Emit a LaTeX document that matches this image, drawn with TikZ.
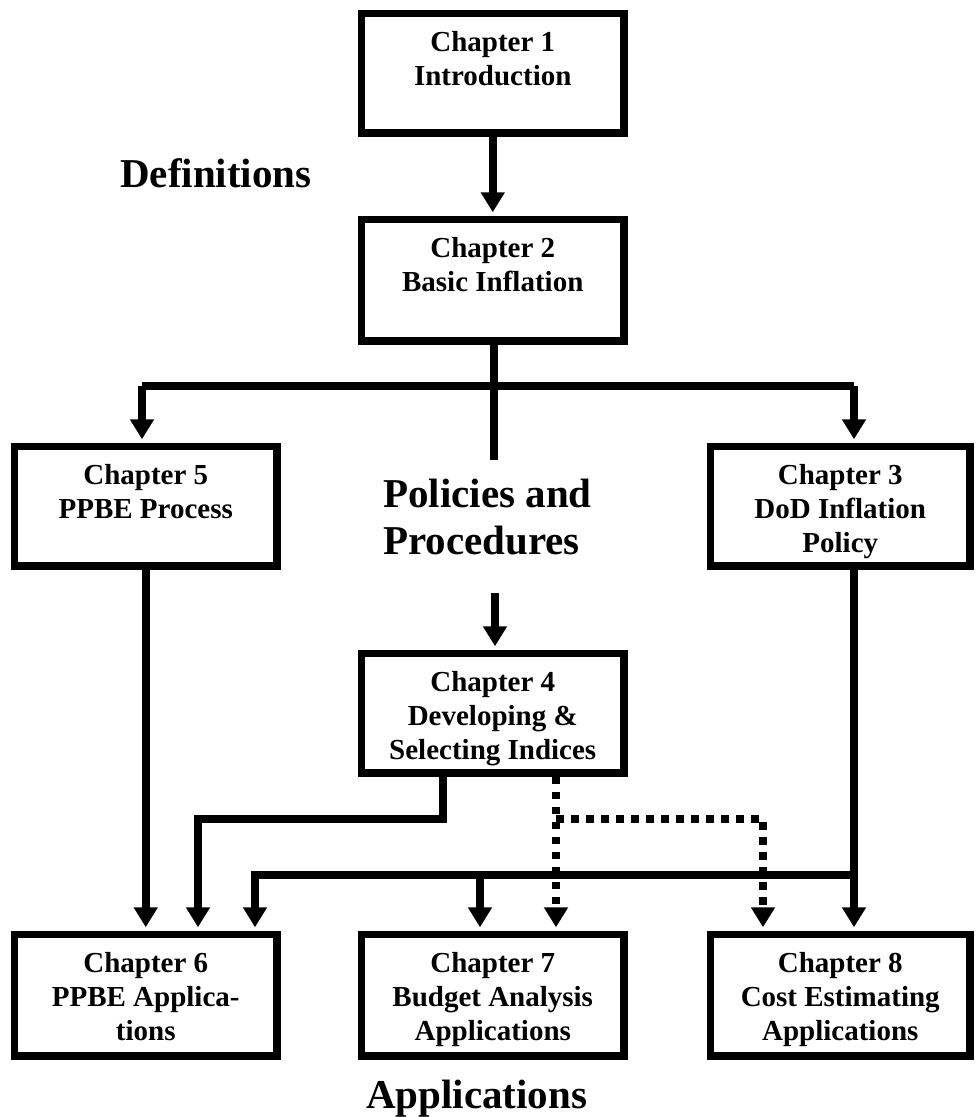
\documentclass[tikz,border=0pt]{standalone}
\usepackage{fontspec}
\setmainfont{Liberation Serif}
\usetikzlibrary{arrows.meta,calc}
\newcommand\chbox[6]{%
  \node[chapbox] (#1) at (#2+3.75,#3+3.75)
  {\parbox[c][\dimexpr#5pt-#3pt-7.5pt\relax][t]{\dimexpr#4pt-#2pt-7.5pt\relax}%
  {\centering\fontsize{29}{34}\selectfont\bfseries\rule{0pt}{37.75pt}#6\par}};}
\tikzset{
  chapbox/.style={draw,line width=7.5pt,inner sep=0pt,anchor=north west},
  conn/.style={line width=7.5pt,line join=miter},
  arr/.style={conn,-{Triangle[width=23pt,length=20pt]},shorten >=3.5pt},
  darr/.style={arr,dash pattern=on 7.5pt off 7.5pt},
  big/.style={inner sep=0pt,font=\fontsize{41}{47}\selectfont\bfseries}
}
\begin{document}
\begin{tikzpicture}[x=1pt,y=-1pt]
\useasboundingbox (0,0) rectangle (976,1117);
% boxes
\chbox{c1}{354}{6}{624}{133}{Chapter 1\\Introduction}
\chbox{c2}{354}{212}{624}{341}{Chapter 2\\Basic Inflation}
\chbox{c5}{7}{439}{277}{566}{Chapter 5\\PPBE Process}
\chbox{c3}{703}{439}{970}{566}{Chapter 3\\DoD Inflation\\Policy}
\chbox{c4}{354}{646}{624}{773}{Chapter 4\\Developing \&\\Selecting Indices}
\chbox{c6}{7}{927}{277}{1056}{Chapter 6\\PPBE Applica-\\tions}
\chbox{c7}{354}{927}{624}{1056}{Chapter 7\\Budget Analysis\\Applications}
\chbox{c8}{703}{927}{970}{1056}{Chapter 8\\Cost Estimating\\Applications}
% labels
\node[big,anchor=base west] (def) at (120,187) {Definitions};
\node[big,anchor=base west] (pp) at (383,507)
  {\begin{tabular}[t]{@{}l@{}}Policies and\\Procedures\end{tabular}};
\node[big,anchor=base west] (app) at (366,1108) {Applications};
% coordinates
\coordinate (s2) at (494,460);
\coordinate (b2) at (494,386);
\coordinate (b5) at (142,386);
\coordinate (b3) at (854,386);
\coordinate (p4) at (495,593);
\coordinate (k1) at (443,819);
\coordinate (k2) at (198,819);
\coordinate (m1) at (854,875);
\coordinate (m2) at (255,875);
\coordinate (m3) at (480,875);
\coordinate (d1) at (556,819);
\coordinate (d2) at (763,819);
% connectors
\draw[arr] (c1.south) -- (c2.north);
\draw[conn] (c2.south -| s2) -- (s2);
\draw[conn] (b5) -- (b3);
\draw[arr] (b5) -- (b5 |- c5.north);
\draw[arr] (b3) -- (b3 |- c3.north);
\draw[arr] (p4) -- (p4 |- c4.north);
\draw[arr] (c5.south) -- (c6.north);
\draw[arr] (c4.south -| k1) -- (k1) -- (k2) -- (k2 |- c6.north);
\draw[arr] (c3.south -| m1) -- (m1 |- c8.north);
\draw[arr] (m1) -- (m2) -- (m2 |- c6.north);
\draw[arr] (m3) -- (m3 |- c7.north);
\draw[darr] (c4.south -| d1) -- (d1 |- c7.north);
\draw[darr] (d1) -- (d2) -- (d2 |- c8.north);
\end{tikzpicture}
\end{document}
